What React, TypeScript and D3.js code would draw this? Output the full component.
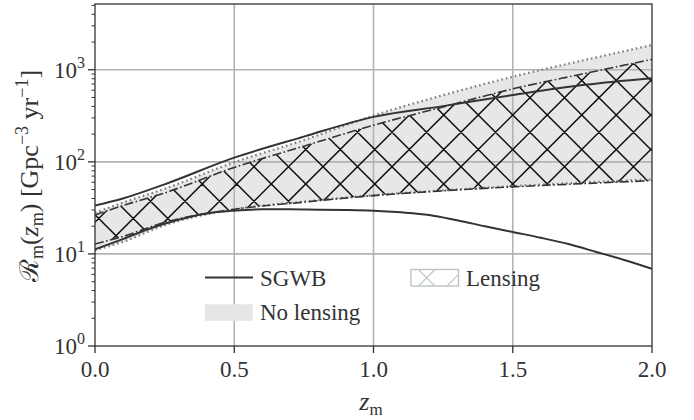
import React from "react";
import * as d3 from "d3";

// ---- data ----
const zBand = [0, 0.1, 0.25, 0.5, 0.75, 1.0, 1.25, 1.5, 1.75, 2.0];
const noLensUpper = [28, 36, 51, 99, 172, 318, 530, 840, 1260, 1855];
const noLensLower = [11, 13.5, 20.5, 30.5, 37, 43.5, 49, 54.5, 59.5, 64.4];
const lensUpper = [26.5, 33.5, 46, 87, 148, 250, 395, 620, 900, 1297];
const lensLower = [12.8, 15.5, 22, 30.5, 36.5, 43, 48.5, 53.5, 58, 62.5];

const zSgwbUp = [0, 0.1, 0.25, 0.5, 0.75, 1.0, 1.25, 1.5, 1.75, 2.0];
const sgwbUpper = [33.5, 40, 57, 111, 188, 308, 403, 531, 682, 810];

const zSgwbLow = [0, 0.1, 0.2, 0.3, 0.4, 0.5, 0.6, 0.7, 0.8, 0.9, 1.0, 1.1, 1.2, 1.3, 1.4, 1.5, 1.6, 1.7, 1.8, 1.9, 2.0];
const sgwbLower = [11.2, 14.5, 19, 23.5, 27.5, 29.5, 30.5, 30.5, 30.2, 30, 29.5, 28.3, 26.5, 23.2, 20, 17.3, 15, 12.8, 10.5, 8.6, 6.9];

const xTicks = [0, 0.5, 1.0, 1.5, 2.0];
const xTickLabels = ["0.0", "0.5", "1.0", "1.5", "2.0"];
const yTicks = [1, 10, 100, 1000];
const yTickExp = ["0", "1", "2", "3"];

const legendLabels = ["SGWB", "No lensing", "Lensing"];

const W = 694, H = 420;
const M = { left: 95, right: 652, top: 4, bottom: 346 };
const FONT = '"Liberation Serif"';

export default function App() {
  const x = d3.scaleLinear().domain([0, 2]).range([M.left, M.right]);
  const y = d3.scaleLog().domain([1, 5180]).range([M.bottom, M.top]);

  const band = (lo: number[], hi: number[]) =>
    d3
      .area<number>()
      .x((_, i) => x(zBand[i]))
      .y0((_, i) => y(lo[i]))
      .y1((_, i) => y(hi[i]))
      .curve(d3.curveMonotoneX)(zBand) as string;

  const line = (zs: number[], vs: number[]) =>
    d3
      .line<number>()
      .x((_, i) => x(zs[i]))
      .y((v) => y(v))
      .curve(d3.curveMonotoneX)(vs) as string;

  const minor: number[] = [];
  for (let e = 0; e < 4; e++) for (let k = 2; k <= 9; k++) {
    const v = k * Math.pow(10, e);
    if (v < 5180) minor.push(v);
  }

  // x-hatch lines (explicit, clipped to the lensing band)
  const s = 34.5, ax = 530, ay = 166.7;
  const hatchD: string[] = [];
  const x0 = M.left, x1 = M.right;
  for (let k = -30; k <= 30; k++) {
    const c1 = ay - ax + k * s; // y = x + c1
    hatchD.push(`M${x0},${x0 + c1}L${x1},${x1 + c1}`);
    const c2 = ay + ax + k * s; // y = -x + c2
    hatchD.push(`M${x0},${c2 - x0}L${x1},${c2 - x1}`);
  }

  const gridC = "#b3b3b3";
  const dark = "#333333";
  const tStyle = { fontFamily: FONT };

  return (
    <svg width={W} height={H} style={{ position: "absolute", left: 0, top: 0 }}>
      <clipPath id="plotclip">
        <rect x={M.left} y={M.top} width={M.right - M.left} height={M.bottom - M.top} />
      </clipPath>
      <clipPath id="lensclip">
        <path d={band(lensLower, lensUpper)} />
      </clipPath>
      <clipPath id="legclip">
        <rect x={411} y={269.5} width={47.5} height={16.5} />
      </clipPath>

      <g clipPath="url(#plotclip)">
        <path d={band(noLensLower, noLensUpper)} fill="#e5e8e7" stroke="none" />
        {xTicks.slice(1, -1).map((t) => (
          <line key={"gx" + t} x1={x(t)} x2={x(t)} y1={M.top} y2={M.bottom} stroke={gridC} strokeWidth={1.6} />
        ))}
        {yTicks.slice(1).map((t) => (
          <line key={"gy" + t} x1={M.left} x2={M.right} y1={y(t)} y2={y(t)} stroke={gridC} strokeWidth={1.6} />
        ))}
        <g clipPath="url(#lensclip)">
          <path d={hatchD.join("")} stroke="#111" strokeWidth={1.5} fill="none" />
        </g>
        <path d={line(zBand, noLensUpper)} fill="none" stroke="#7a7a7a" strokeWidth={2.2} strokeDasharray="1.6,3" />
        <path d={line(zBand, noLensLower)} fill="none" stroke="#7a7a7a" strokeWidth={2.2} strokeDasharray="1.6,3" />
        <path d={line(zBand, lensUpper)} fill="none" stroke={dark} strokeWidth={1.6} strokeDasharray="9,2.5,1.6,2.5" />
        <path d={line(zBand, lensLower)} fill="none" stroke={dark} strokeWidth={1.6} strokeDasharray="9,2.5,1.6,2.5" />
        <path d={line(zSgwbUp, sgwbUpper)} fill="none" stroke={dark} strokeWidth={2} />
        <path d={line(zSgwbLow, sgwbLower)} fill="none" stroke={dark} strokeWidth={2} />
      </g>

      <rect x={M.left} y={M.top} width={M.right - M.left} height={M.bottom - M.top} fill="none" stroke={dark} strokeWidth={1.3} />

      {yTicks.map((t, i) => (
        <text key={"ytl" + t} x={85} y={y(t) + 8} textAnchor="end" fontSize={23} fill="#333" style={tStyle}>
          10
          <tspan fontSize={16} dy={-10}>{yTickExp[i]}</tspan>
        </text>
      ))}
      {yTicks.map((t) => (
        <line key={"yt" + t} x1={M.left - 7} x2={M.left} y1={y(t)} y2={y(t)} stroke={dark} strokeWidth={1.3} />
      ))}
      {minor.map((t) => (
        <line key={"ym" + t} x1={M.left - 3.5} x2={M.left} y1={y(t)} y2={y(t)} stroke={dark} strokeWidth={1} />
      ))}

      {xTicks.map((t) => (
        <line key={"xt" + t} x1={x(t)} x2={x(t)} y1={M.bottom} y2={M.bottom + 7} stroke={dark} strokeWidth={1.3} />
      ))}
      {xTicks.map((t, i) => (
        <text key={"xtl" + t} x={x(t)} y={377} textAnchor="middle" fontSize={23} fill="#333" style={tStyle}>
          {xTickLabels[i]}
        </text>
      ))}

      <text x={371} y={410} textAnchor="middle" fontSize={26} fill="#333" style={tStyle}>
        <tspan fontStyle="italic">z</tspan>
        <tspan fontSize={17} dy={5}>m</tspan>
      </text>
      <text transform="translate(38,176) rotate(-90)" textAnchor="middle" fontSize={26} fill="#333" style={tStyle}>
        ℛ<tspan fontSize={18} dy={5}>m</tspan>
        <tspan dy={-5}>(</tspan>
        <tspan fontStyle="italic">z</tspan>
        <tspan fontSize={18} dy={5}>m</tspan>
        <tspan dy={-5}>) [Gpc</tspan>
        <tspan fontSize={18} dy={-10}>−3</tspan>
        <tspan dy={10}> yr</tspan>
        <tspan fontSize={18} dy={-10}>−1</tspan>
        <tspan dy={10}>]</tspan>
      </text>

      <line x1={205} x2={253} y1={277.5} y2={277.5} stroke={dark} strokeWidth={2} />
      <text x={260} y={286} fontSize={23} fill="#333" style={tStyle}>{legendLabels[0]}</text>
      <rect x={205} y={304.3} width={47.7} height={16.5} fill="#e3e6e5" />
      <text x={260} y={320} fontSize={23} fill="#333" style={tStyle}>{legendLabels[1]}</text>
      <g clipPath="url(#legclip)" stroke="#bcc5c2" strokeWidth={1.2}>
        <line x1={418.2} y1={269.3} x2={435.2} y2={286.3} />
        <line x1={418.2} y1={286.3} x2={435.2} y2={269.3} />
        <line x1={446.7} y1={286.3} x2={463.7} y2={269.3} />
      </g>
      <rect x={411} y={269.5} width={47.5} height={16.5} fill="none" stroke="#bcc5c2" strokeWidth={1.4} />
      <text x={466} y={286} fontSize={23} fill="#333" style={tStyle}>{legendLabels[2]}</text>
    </svg>
  );
}
